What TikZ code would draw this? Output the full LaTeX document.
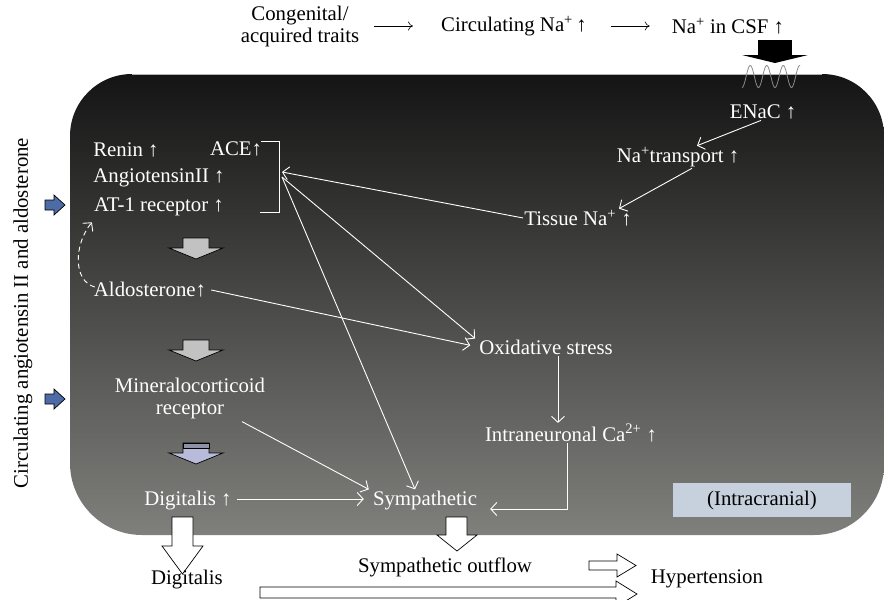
\documentclass[tikz,border=0pt]{standalone}
\usepackage{fontspec}
\setmainfont{Liberation Serif}
\usetikzlibrary{arrows.meta,calc}
\definecolor{boxtop}{HTML}{141414}
\definecolor{boxbot}{HTML}{7F7F7C}
\definecolor{blockgray}{HTML}{C2C2C2}
\definecolor{lav}{HTML}{B8BCDA}
\definecolor{lavband}{HTML}{8F91A6}
\definecolor{bluearr}{HTML}{4D6BA6}
\definecolor{icbox}{HTML}{C7D1DD}
\definecolor{wavegray}{HTML}{8A8A8A}
\begin{document}
\begin{tikzpicture}[x=1pt,y=-1pt,
  txt/.style={font=\fontsize{20.8}{22}\selectfont, inner sep=1pt},
  wt/.style={txt, text=white},
  wa/.style={draw=white, line width=0.9pt, -{Straight Barb[length=6pt,width=13pt,line width=0.9pt]}},
  wdash/.style={wa, dash pattern=on 5pt off 3.5pt},
  ba/.style={draw=black, line width=0.6pt, -{To[length=5pt,width=9pt]}},
  blk/.style={draw=black, line width=0.7pt},
  ]
\useasboundingbox (0,0) rectangle (884,600);
% main gradient box
\shade[top color=boxtop, bottom color=boxbot]
  (132,74) -- (822,74) arc[start angle=270,end angle=360,radius=62]
  -- (884,465) arc[start angle=0,end angle=90,radius=70]
  -- (142,535) arc[start angle=90,end angle=180,radius=72]
  -- (70,136) arc[start angle=180,end angle=270,radius=62] -- cycle;
\draw[gray!60, line width=0.6pt] (132,74) -- (822,74);

% top row
\node[txt, align=center] (cong) at (300,26) {Congenital/\\acquired traits};
\node[txt] (circ) at (514,26) {Circulating Na\textsuperscript{+}\,↑};
\node[txt] (csf) at (728,26) {Na\textsuperscript{+} in CSF ↑};
\draw[ba, shorten <=14pt, shorten >=27pt] (cong) -- (circ);
\draw[ba, shorten <=23pt, shorten >=21pt] (circ) -- (csf);

% black block arrow and wave
\fill[black] (758,40) rectangle (792,55.5);
\fill[black] (742,55) -- (808,55) -- (775,63) -- cycle;
\draw[wavegray, line width=0.8pt] plot[domain=0:58, samples=120, smooth] ({742+\x},{76.5+11*cos(\x*21.818)});

% right chain
\node[wt] (enac) at (763,112) {ENaC ↑};
\node[wt] (natr) at (678,157) {Na\textsuperscript{+}transport ↑};
\node[wt] (tissue) at (578,218) {Tissue Na\textsuperscript{+} ↑};
\draw[wa] ([xshift=-2pt]enac.south) -- ([xshift=19pt]natr.north);
\draw[wa] ([xshift=14pt]natr.south) -- ([xshift=41pt]tissue.north);

% RAS group
\node[wt] (renin) at (126,150) {Renin ↑};
\node[wt] (ace) at (236,149) {ACE↑};
\node[wt] (ang) at (159,178) {AngiotensinII ↑};
\node[wt] (at1) at (159,207) {AT-1 receptor ↑};
\draw[white, line width=0.9pt] (261,141) -- (279,141) -- (279,212) -- (260,212);
\coordinate (brk) at (282,172);
\coordinate (brk2) at (282,177);

% left column
\node[wt] (ald) at (150,290) {Aldosterone↑};
\node[wt, align=center] (mineral) at (190,398) {Mineralocorticoid\\receptor};
\node[wt, anchor=base] (dig) at (188,505) {Digitalis ↑};
\draw[wdash] ([xshift=2pt,yshift=3pt]ald.west) .. controls +(-22,-6) and +(-18,22) .. ([xshift=-1pt,yshift=-5pt]at1.south west);

% gray block arrows
\draw[blk, fill=blockgray] (183,238) -- (209,238) -- (209,248) -- (223,248) -- (196,259) -- (169,248) -- (183,248) -- cycle;
\draw[blk, fill=blockgray] (183,340) -- (209,340) -- (209,350) -- (223,350) -- (196,361) -- (169,350) -- (183,350) -- cycle;
\draw[blk, fill=lav] (183,443) -- (209,443) -- (209,453) -- (223,453) -- (196,464) -- (169,453) -- (183,453) -- cycle;
\draw[blk, fill=lavband] (183,443) rectangle (209,448);

% blue arrows
\draw[blk, fill=bluearr] (45,200) -- (54,200) -- (54,195) -- (65,205) -- (54,215) -- (54,210) -- (45,210) -- cycle;
\draw[blk, fill=bluearr] (45,394) -- (54,394) -- (54,389) -- (65,399) -- (54,409) -- (54,404) -- (45,404) -- cycle;
\node[txt, rotate=90] (circang) at (23,313) {Circulating angiotensin II and aldosterone};

% middle nodes
\node[wt] (oxi) at (546,347) {Oxidative stress};
\node[wt] (intra) at (571,433) {Intraneuronal Ca\textsuperscript{2+} ↑};
\node[wt, anchor=base] (symp) at (425,505) {Sympathetic};

% connectors
\draw[wa] (tissue.west) -- (brk);
\draw[wa] (brk2) -- ([xshift=-3pt]oxi.north west);
\draw[wa, shorten >=8pt] ([xshift=4pt]ald.east) -- (oxi.west);
\draw[wa] (brk2) -- ([xshift=-10pt]symp.north);
\draw[wa] ([xshift=52pt,yshift=-2pt]mineral.south) -- ([xshift=-3pt]symp.north west);
\draw[wa, shorten <=4pt, shorten >=8pt] ([yshift=6pt]dig.base east) -- ([yshift=6pt]symp.base west);
\draw[wa] ([xshift=12pt]oxi.south) -- ([xshift=12pt]oxi.south |- intra.north);
\draw[wa, shorten >=12pt] ([xshift=-4pt]intra.south) |- ([yshift=-4pt]symp.base east);

% intracranial label
\node[txt, fill=icbox, minimum width=178pt, minimum height=34pt] (icr) at (762,500) {(Intracranial)};

% bottom white block arrows
\draw[blk, fill=white] (172,517) -- (193,517) -- (193,546) -- (203,546) -- (182.5,574) -- (162,546) -- (172,546) -- cycle;
\draw[blk, fill=white] (446,517) -- (467,517) -- (467,535) -- (477,535) -- (457,551) -- (437,535) -- (446,535) -- cycle;
\draw[blk, fill=white] (589,561) -- (617,561) -- (617,554) -- (636,565.5) -- (617,577) -- (617,570) -- (589,570) -- cycle;
\draw[blk, fill=white] (260,587) -- (616,587) -- (616,581) -- (637,594) -- (616,607) -- (616,598) -- (260,598) -- cycle;

\node[txt] (digout) at (187,580) {Digitalis};
\node[txt] (sympout) at (445,567) {Sympathetic outflow};
\node[txt] (hyper) at (707,579) {Hypertension};
\end{tikzpicture}
\end{document}
